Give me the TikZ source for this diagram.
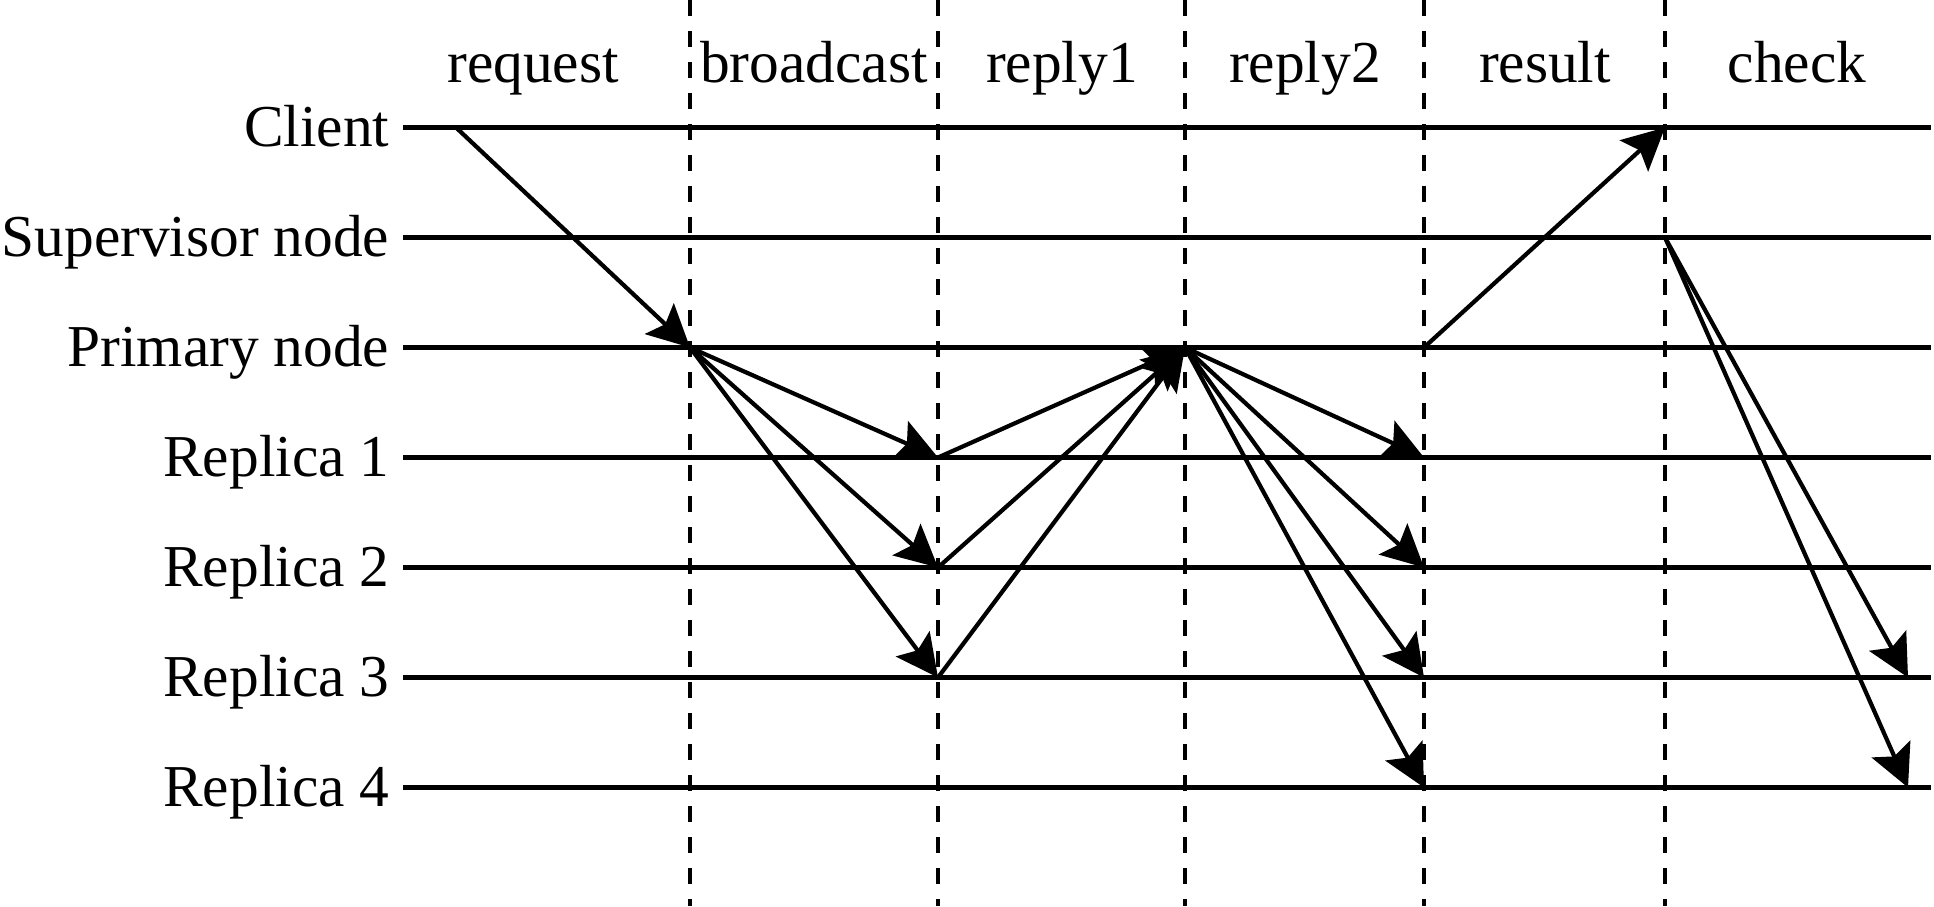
\documentclass[tikz,border=0pt]{standalone}
\usepackage{fontspec}
\setmainfont{Liberation Serif}
\usetikzlibrary{arrows.meta}

\begin{document}
\begin{tikzpicture} [>={Stealth[length=4.2mm, width=4.2mm, inset=0.8mm]},
		lane/.style={line width=1.3pt},
		divider/.style={line width=1.3pt, dash pattern=on 1.6mm off 1.5mm},
		msg/.style={->, line width=1.2pt},
		lbl/.style={font=\fontsize{16.9}{20}\selectfont, inner sep=0pt}]
		%\draw [help lines] (0,0) grid (19,9);
		\useasboundingbox (0,0) rectangle (19.34,9.06);
		% lanes
		\foreach \name/\txt [count=\i from 0] in {C/Client, S/Supervisor node, P/Primary node, R1/Replica 1, R2/Replica 2, R3/Replica 3, R4/Replica 4} {
			\coordinate (\name) at (4.03, 7.785-1.1*\i);
			\draw[lane] (\name) -- ++(15.28,0);
			\node[lbl, anchor=base east] (\name-lbl) at (3.90, 7.785-1.1*\i-0.19) {\txt};
		}
		% phases
		\foreach \x [count=\j] in {6.90, 9.38, 11.85, 14.24, 16.65}
			\draw[divider] (\x,9.06) -- (\x,0) coordinate (d\j);
		\foreach \x/\txt in {5.33/request, 8.14/broadcast, 10.62/reply1, 13.05/reply2, 15.45/result, 17.97/check}
			\node[lbl, anchor=base] (h-\txt) at (\x, 8.23) {\txt};
		\coordinate (cs) at (4.56, 7.785);
		\coordinate (ce) at (19.08, 0);
		% messages
		\draw[msg] (cs) -- (d1 |- P);
		\foreach \r in {R1, R2, R3} {
			\draw[msg] (d1 |- P) -- (d2 |- \r);
			\draw[msg] (d2 |- \r) -- (d3 |- P);
		}
		\foreach \r in {R1, R2, R3, R4}
			\draw[msg] (d3 |- P) -- (d4 |- \r);
		\draw[msg] (d4 |- P) -- (d5 |- C);
		\draw[msg] (d5 |- S) -- (ce |- R3);
		\draw[msg] (d5 |- S) -- (ce |- R4);
	\end{tikzpicture}
\end{document}
